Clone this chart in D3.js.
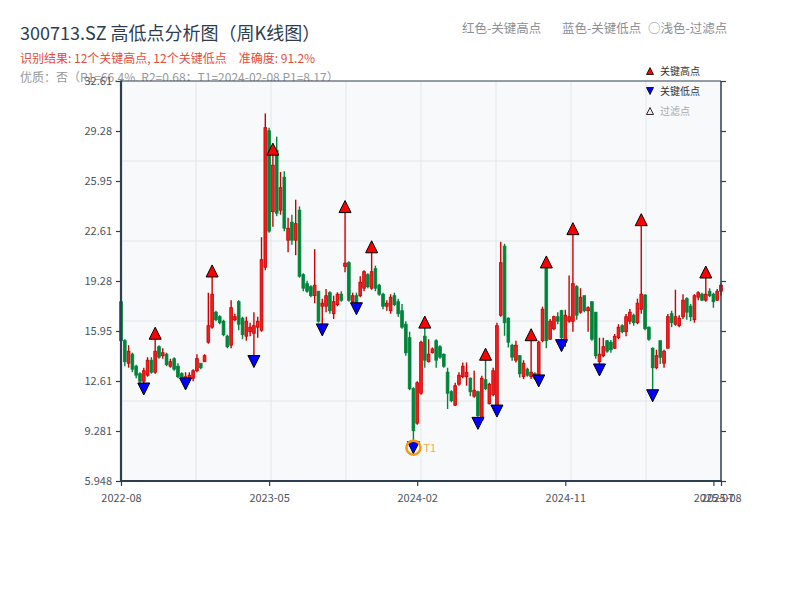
<!DOCTYPE html>
<html>
<head>
<meta charset="utf-8">
<script src="https://cdn.jsdelivr.net/npm/d3@7"></script>
<style>
  body { margin: 0; background: #fff; }
  svg { display: block; font-family: "Noto Sans CJK SC", "Noto Sans", sans-serif; }
</style>
</head>
<body>
<svg id="chart" width="800" height="600"></svg>
<script>
// weekly bars, [open, high, low, close]
const weeklyBars = [
  [17.9, 18.0, 15.1, 15.3], [15.3, 15.4, 13.6, 13.9], [13.8, 15.0, 13.5, 14.6], [14.4, 14.5, 13.2, 13.4],
  [13.6, 13.7, 12.8, 13.0], [13.1, 13.2, 12.4, 12.6], [12.6, 13.5, 12.08, 13.3], [13.0, 14.2, 12.9, 14.0],
  [14.0, 14.2, 13.1, 13.2], [13.2, 15.8, 13.1, 14.6], [14.9, 15.0, 14.1, 14.2], [14.3, 14.8, 14.1, 14.5],
  [14.4, 14.5, 13.6, 13.7], [13.6, 14.1, 13.5, 13.9], [14.1, 14.2, 13.3, 13.4], [13.6, 13.8, 12.8, 12.9],
  [13.1, 13.2, 12.6, 12.7], [12.6, 13.2, 12.42, 12.9], [12.7, 13.2, 12.5, 13.0], [12.8, 13.4, 12.6, 13.3],
  [13.3, 14.4, 13.2, 14.1], [13.8, 13.8, 13.4, 13.5], [13.9, 14.4, 13.9, 14.3], [15.2, 18.5, 15.1, 16.3],
  [16.2, 19.95, 16.1, 18.4], [17.2, 17.3, 16.6, 16.7], [16.9, 17.0, 16.4, 16.5], [16.6, 16.7, 15.6, 15.7],
  [15.6, 15.7, 14.8, 14.9], [15.0, 18.0, 14.8, 17.5], [16.7, 17.1, 16.6, 16.9], [17.9, 18.0, 16.0, 16.4],
  [16.8, 16.9, 15.4, 15.7], [15.6, 16.9, 15.3, 16.6], [15.9, 16.5, 15.6, 16.2], [15.8, 17.2, 13.91, 16.3],
  [16.2, 16.9, 15.5, 16.6], [16.0, 22.2, 15.9, 20.7], [20.2, 30.45, 20.0, 29.5], [29.3, 29.5, 22.5, 22.6],
  [23.9, 28.07, 22.9, 27.0], [28.0, 28.9, 23.6, 23.8], [24.0, 26.55, 23.7, 25.5], [26.2, 26.6, 22.6, 22.8],
  [22.0, 23.5, 21.2, 22.8], [23.2, 23.7, 21.7, 22.0], [22.0, 24.7, 21.0, 23.1], [24.0, 24.25, 19.5, 19.6],
  [19.7, 19.8, 18.6, 18.8], [19.1, 19.3, 18.5, 18.6], [18.9, 19.0, 18.2, 18.3], [18.3, 21.4, 17.8, 19.0],
  [18.6, 18.6, 16.5, 16.6], [17.6, 18.1, 16.02, 17.8], [17.6, 18.75, 17.2, 18.3], [18.5, 18.6, 17.1, 17.3],
  [17.1, 18.3, 16.75, 17.9], [17.7, 18.53, 17.6, 18.4], [18.4, 18.6, 17.9, 18.0], [20.25, 24.24, 19.87, 20.47],
  [20.5, 20.6, 17.9, 18.0], [17.9, 18.5, 17.8, 18.3], [18.3, 18.5, 17.43, 17.8], [18.3, 19.6, 18.2, 19.2],
  [18.8, 20.0, 18.6, 19.9], [19.7, 19.8, 18.8, 18.9], [18.8, 21.56, 18.7, 19.9], [20.1, 20.3, 18.6, 18.8],
  [19.0, 19.1, 18.3, 18.4], [18.4, 18.5, 17.4, 17.6], [17.6, 18.0, 17.3, 17.8], [17.3, 18.4, 17.1, 18.2],
  [18.3, 18.5, 17.6, 17.7], [17.9, 18.1, 16.9, 17.1], [17.3, 17.75, 16.1, 16.2], [16.4, 16.6, 14.3, 14.5],
  [15.5, 15.9, 12.0, 12.1], [12.1, 12.2, 8.17, 9.3], [9.8, 12.6, 9.7, 12.5], [11.8, 15.3, 11.7, 15.2],
  [15.6, 16.54, 13.5, 14.0], [13.9, 15.4, 13.85, 14.4], [14.5, 14.85, 14.45, 14.75], [15.3, 15.4, 13.5, 14.0],
  [14.9, 15.0, 14.1, 14.2], [14.4, 14.45, 13.5, 13.6], [13.2, 13.5, 10.75, 11.8], [11.9, 12.0, 11.2, 11.3],
  [11.0, 12.5, 10.95, 12.3], [12.4, 13.2, 12.3, 13.0], [12.9, 13.85, 12.8, 13.6], [12.9, 13.85, 12.3, 13.2],
  [12.8, 12.85, 11.6, 11.9], [11.6, 13.3, 11.5, 12.0], [11.9, 11.96, 9.79, 10.3], [10.0, 12.96, 9.96, 12.8],
  [12.7, 14.4, 12.0, 12.1], [11.1, 12.5, 11.05, 12.4], [11.7, 13.5, 11.6, 13.3], [10.9, 16.5, 10.61, 16.3],
  [17.0, 21.9, 16.9, 20.5], [21.6, 21.76, 15.63, 16.5], [16.8, 16.86, 14.85, 15.2], [15.0, 15.1, 13.97, 14.2],
  [14.0, 15.3, 13.85, 15.0], [14.3, 14.35, 12.85, 13.1], [12.9, 14.0, 12.74, 13.8], [13.4, 13.5, 12.9, 13.0],
  [12.9, 15.7, 12.75, 13.2], [13.1, 13.2, 12.7, 12.8], [12.9, 15.3, 12.62, 15.2], [15.3, 17.57, 15.2, 17.4],
  [20.1, 20.55, 14.8, 15.3], [15.4, 16.75, 15.35, 16.6], [16.1, 16.97, 16.0, 16.9], [16.9, 17.2, 16.4, 16.6],
  [17.3, 17.36, 14.97, 15.5], [15.2, 17.36, 14.9, 17.0], [16.6, 19.65, 16.5, 16.9], [16.6, 22.77, 15.9, 19.1],
  [18.9, 19.0, 16.7, 17.0], [17.2, 18.8, 17.1, 18.2], [18.3, 18.3, 17.2, 17.3], [17.3, 17.6, 15.9, 17.5],
  [17.9, 17.9, 15.3, 15.4], [17.2, 17.2, 14.1, 14.3], [13.9, 15.5, 13.35, 14.4], [14.3, 15.5, 14.2, 14.9],
  [15.3, 15.35, 14.5, 14.6], [15.2, 15.35, 14.5, 14.7], [14.8, 15.75, 14.75, 15.6], [15.5, 16.4, 15.4, 16.2],
  [16.3, 16.4, 15.8, 15.9], [15.9, 17.08, 15.6, 16.9], [16.6, 17.42, 16.4, 17.2], [17.0, 17.1, 16.3, 16.5],
  [16.5, 18.1, 16.4, 17.8], [17.4, 23.37, 17.1, 18.4], [18.35, 18.4, 16.0, 16.1], [16.2, 16.25, 15.3, 15.4],
  [14.8, 14.85, 11.63, 13.5], [13.5, 14.7, 13.4, 14.3], [15.3, 15.3, 13.75, 14.2], [13.8, 14.7, 13.5, 14.6],
  [14.8, 17.08, 14.8, 16.9], [17.1, 17.3, 16.2, 16.5], [16.4, 18.7, 16.3, 16.9], [16.3, 17.0, 16.2, 16.8],
  [16.9, 18.4, 16.75, 18.0], [18.1, 18.2, 16.7, 17.2], [17.6, 17.75, 16.6, 16.9], [16.7, 18.4, 16.5, 18.3],
  [18.2, 18.6, 18.0, 18.5], [18.4, 18.5, 17.95, 18.0], [18.0, 19.88, 17.9, 18.4], [18.6, 18.8, 18.2, 18.3],
  [18.4, 18.5, 17.5, 17.9], [18.0, 18.75, 17.95, 18.6], [18.6, 19.15, 18.3, 19.0]
];

const keyHighIdx = [9, 24, 40, 59, 66, 80, 96, 108, 112, 119, 137, 154];
const keyLowIdx = [6, 17, 35, 53, 62, 77, 94, 99, 110, 116, 126, 140];
const t1Idx = 77;

const xTickIdx = [0, 39, 78, 117, 156, 158];
const xTickLabels = ["2022-08", "2023-05", "2024-02", "2024-11", "2025-07", "2025-08"];
const yDomain = [5.948, 32.612];
const yTickCount = 9;

const titleText = "300713.SZ 高低点分析图（周K线图）";
const resultText = "识别结果: 12个关键高点, 12个关键低点";
const accuracyText = "准确度: 91.2%";
const qualityText = "优质：否（R1=66.4%, R2=0.68；T1=2024-02-08 P1=8.17）";
const headerNotes = ["红色-关键高点", "蓝色-关键低点", "○浅色-过滤点"];
const legendItems = [
  { label: "关键高点", shape: "up", fill: "#ff0000", text: "#333" },
  { label: "关键低点", shape: "down", fill: "#0000ff", text: "#333" },
  { label: "过滤点", shape: "up", fill: "#ffe4e4", text: "#aaa" }
];

const svg = d3.select("#chart");
const plot = { left: 121, top: 81, right: 721, bottom: 481 };
const plotW = plot.right - plot.left;
const plotH = plot.bottom - plot.top;
const axisColor = "#2c3e50";
const upColor = "#cc0000";
const downColor = "#00843a";

const x = d3.scaleLinear().domain([0, weeklyBars.length - 1]).range([plot.left, plot.right]);
const y = d3.scaleLinear().domain(yDomain).range([plot.bottom, plot.top]);
const step = x(1) - x(0);

// header texts (drawn first, the plot covers the bottom of the last line)
svg.append("text")
  .attr("x", 20).attr("y", 40)
  .attr("font-size", 18).attr("fill", axisColor)
  .text(titleText);

const res = svg.append("text")
  .attr("x", 20).attr("y", 63)
  .attr("font-size", 12).attr("fill", "#e74c3c");
res.append("tspan").text(resultText);
res.append("tspan").attr("dx", 12).text(accuracyText);

svg.append("text")
  .attr("x", 20).attr("y", 81.5)
  .attr("font-size", 12).attr("fill", "#999")
  .text(qualityText);

const noteX = [462, 562, 648];
svg.selectAll("text.note")
  .data(headerNotes)
  .enter().append("text")
  .attr("class", "note")
  .attr("x", (d, i) => noteX[i]).attr("y", 33)
  .attr("font-size", 12.5).attr("fill", "#8a8f99")
  .text(d => d);

// plot background and grid
svg.append("rect")
  .attr("x", plot.left).attr("y", plot.top)
  .attr("width", plotW).attr("height", plotH)
  .attr("fill", "#f7f9fb");

const grid = svg.append("g")
  .attr("stroke", "#e1e5eb")
  .attr("stroke-width", 1);

grid.selectAll("line.v")
  .data(d3.range(1, 8))
  .enter().append("line")
  .attr("x1", k => plot.left + k * plotW / 8).attr("x2", k => plot.left + k * plotW / 8)
  .attr("y1", plot.top).attr("y2", plot.bottom);

grid.selectAll("line.h")
  .data(d3.range(1, 5))
  .enter().append("line")
  .attr("y1", k => plot.top + k * plotH / 5).attr("y2", k => plot.top + k * plotH / 5)
  .attr("x1", plot.left).attr("x2", plot.right);

// candles
const bars = weeklyBars.map(([o, h, l, c], i) => ({ i, o, h, l, c, up: c >= o }));
const bodyW = step * 0.72;

const candles = svg.append("g").attr("class", "candles")
  .selectAll("g")
  .data(bars)
  .enter().append("g");

candles.append("line")
  .attr("x1", d => x(d.i)).attr("x2", d => x(d.i))
  .attr("y1", d => y(d.h)).attr("y2", d => y(d.l))
  .attr("stroke", d => d.up ? upColor : downColor)
  .attr("stroke-width", 1.4);

candles.append("rect")
  .attr("x", d => x(d.i) - bodyW / 2)
  .attr("y", d => y(Math.max(d.o, d.c)))
  .attr("width", bodyW)
  .attr("height", d => Math.max(0.8, Math.abs(y(d.o) - y(d.c))))
  .attr("fill", d => d.up ? "#f01e1e" : downColor)
  .attr("stroke", d => d.up ? upColor : downColor)
  .attr("stroke-width", 0.8);

// key point markers
const tri = (s, dir) => dir === "up"
  ? `M0,${-s}L${s},${s}L${-s},${s}Z`
  : `M0,${s}L${s},${-s}L${-s},${-s}Z`;

svg.append("g")
  .selectAll("path")
  .data(keyHighIdx)
  .enter().append("path")
  .attr("d", tri(6, "up"))
  .attr("transform", i => `translate(${x(i)},${y(weeklyBars[i][1])})`)
  .attr("fill", "#ff0000").attr("stroke", "#000").attr("stroke-width", 1);

svg.append("g")
  .selectAll("path")
  .data(keyLowIdx)
  .enter().append("path")
  .attr("d", tri(6, "down"))
  .attr("transform", i => `translate(${x(i)},${y(weeklyBars[i][2])})`)
  .attr("fill", "#0000ff").attr("stroke", "#000").attr("stroke-width", 1);

// T1 marker
const t1x = x(t1Idx), t1y = y(weeklyBars[t1Idx][2]);
svg.append("circle")
  .attr("cx", t1x).attr("cy", t1y).attr("r", 7)
  .attr("fill", "none").attr("stroke", "#f39c12").attr("stroke-width", 2.5);
svg.append("text")
  .attr("x", t1x + 10).attr("y", t1y + 4)
  .attr("font-size", 11).attr("fill", "#f0a030").attr("opacity", 0.85)
  .text("T1");

// axes
const yTicks = d3.range(yTickCount).map(k => yDomain[0] + k * (yDomain[1] - yDomain[0]) / (yTickCount - 1));
const fmt = d3.format(".4");

const yAxis = svg.append("g")
  .attr("transform", `translate(${plot.left},0)`)
  .call(d3.axisLeft(y).tickValues(yTicks).tickFormat(fmt).tickSize(5).tickPadding(4));
yAxis.select(".domain").remove();

const yAxisR = svg.append("g")
  .attr("transform", `translate(${plot.right},0)`)
  .call(d3.axisRight(y).tickValues(yTicks).tickFormat("").tickSize(5));
yAxisR.select(".domain").remove();

const xAxis = svg.append("g")
  .attr("transform", `translate(0,${plot.bottom})`)
  .call(d3.axisBottom(x).tickValues(xTickIdx)
    .tickFormat((d, i) => xTickLabels[i]).tickSize(5).tickPadding(8));
xAxis.select(".domain").remove();

svg.selectAll(".tick line").attr("stroke", axisColor).attr("stroke-width", 1.2);
svg.selectAll(".tick text")
  .attr("fill", "#4a5563")
  .attr("font-size", 11)
  .attr("font-family", "\"Noto Sans CJK SC\", \"Noto Sans\", sans-serif");

// frame
svg.append("line")
  .attr("x1", plot.left).attr("x2", plot.right).attr("y1", plot.top).attr("y2", plot.top)
  .attr("stroke", axisColor).attr("stroke-width", 1.2);
svg.append("line")
  .attr("x1", plot.right).attr("x2", plot.right).attr("y1", plot.top).attr("y2", plot.bottom)
  .attr("stroke", axisColor).attr("stroke-width", 1.5);
svg.append("line")
  .attr("x1", plot.left).attr("x2", plot.left).attr("y1", plot.top - 0.5).attr("y2", plot.bottom + 1)
  .attr("stroke", axisColor).attr("stroke-width", 2.2);
svg.append("line")
  .attr("x1", plot.left - 1).attr("x2", plot.right + 0.7).attr("y1", plot.bottom).attr("y2", plot.bottom)
  .attr("stroke", axisColor).attr("stroke-width", 2.2);

// legend
const legend = svg.append("g")
  .attr("transform", "translate(650,71)");
const rows = legend.selectAll("g")
  .data(legendItems)
  .enter().append("g")
  .attr("transform", (d, i) => `translate(0,${i * 20})`);
rows.append("path")
  .attr("d", d => tri(3.5, d.shape))
  .attr("fill", d => d.fill).attr("stroke", "#000").attr("stroke-width", 0.8);
rows.append("text")
  .attr("x", 10).attr("y", 4)
  .attr("font-size", 10).attr("fill", d => d.text)
  .text(d => d.label);
</script>
</body>
</html>
